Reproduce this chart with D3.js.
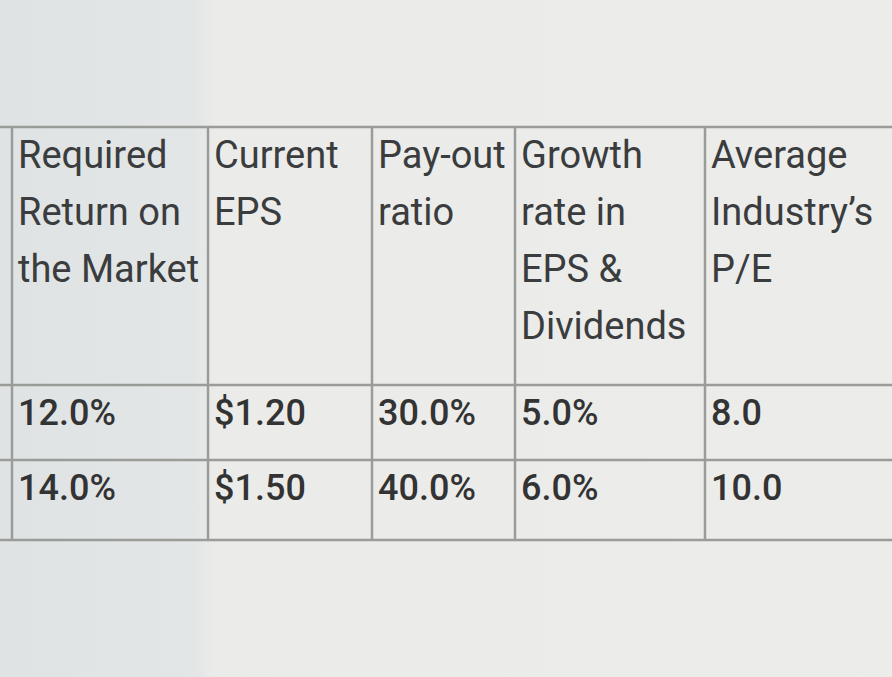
<!DOCTYPE html>
<html><head><meta charset="utf-8">
<script src="https://cdn.jsdelivr.net/npm/d3@7"></script>
<style>body{margin:0;background:#e9ebe9}</style></head>
<body><svg id="c" width="892" height="677"></svg>
<script>
const headers=[["Required","Return on","the Market"],["Current","EPS"],["Pay-out","ratio"],["Growth","rate in","EPS &","Dividends"],["Average","Industry’s","P/E"]];
const row1=["12.0%","$1.20","30.0%","5.0%","8.0"];
const row2=["14.0%","$1.50","40.0%","6.0%","10.0"];
const rows=[row1,row2];
const colEdges=[12,208,372,515,705,892];
const rowEdges=[127,385,460,540];
const svg=d3.select("#c");
const defs=svg.append("defs");
const g=defs.append("linearGradient").attr("id","bg").attr("x1",0).attr("x2",1);
g.append("stop").attr("offset",0).attr("stop-color","#dfe3e3");
g.append("stop").attr("offset",0.22).attr("stop-color","#e3e6e6");
g.append("stop").attr("offset",0.24).attr("stop-color","#ebecea");
g.append("stop").attr("offset",1).attr("stop-color","#ecedeb");
svg.append("rect").attr("width",892).attr("height",677).attr("fill","url(#bg)");
const x=d3.scaleOrdinal().domain(d3.range(6)).range(colEdges);
const line="#9a9c9a";
svg.selectAll("line.h").data(rowEdges).join("line").attr("x1",0).attr("x2",892)
 .attr("y1",d=>d).attr("y2",d=>d).attr("stroke",line).attr("stroke-width",2.5);
svg.selectAll("line.v").data(d3.range(5)).join("line").attr("x1",i=>x(i)).attr("x2",i=>x(i))
 .attr("y1",127).attr("y2",540).attr("stroke",line).attr("stroke-width",2.5);
const font="Roboto, sans-serif";
headers.forEach((h,i)=>{
 svg.append("text").attr("font-family",font).attr("font-size",38).attr("fill","#3a3c3e")
  .selectAll("tspan").data(h).join("tspan").attr("x",x(i)+6).attr("y",(d,j)=>168+j*57).text(d=>d);
});
rows.forEach((r,ri)=>{
 r.forEach((v,i)=>svg.append("text").attr("x",x(i)+6).attr("y",rowEdges[ri+1]+40)
  .attr("font-family",font).attr("font-size",36).attr("font-weight",500).attr("fill","#333").text(v));
});
</script></body></html>
